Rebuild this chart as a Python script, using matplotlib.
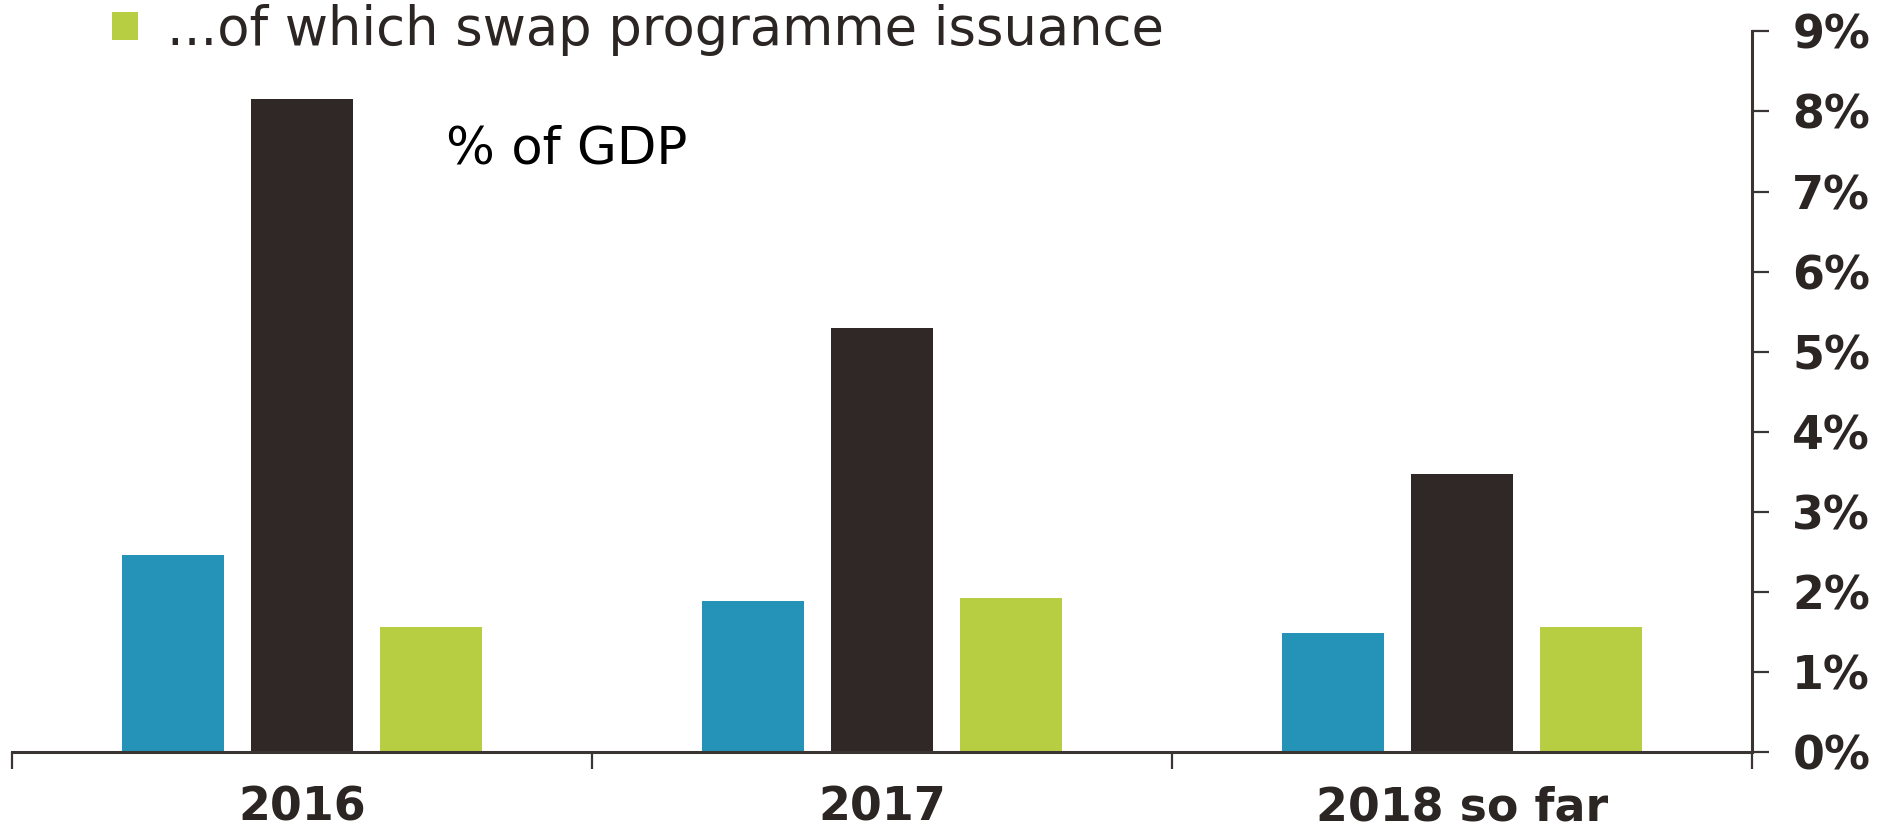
import matplotlib
matplotlib.use("Agg")
import matplotlib.pyplot as plt
import numpy as np

categories = ["2016", "2017", "2018 so far"]
series_blue = [2.46, 1.89, 1.49]
series_black = [8.15, 5.30, 3.47]
series_green = [1.56, 1.92, 1.56]
green_label = "...of which swap programme issuance"
yticks = list(range(0, 10))
ytick_labels = [f"{v}%" for v in yticks]

BLUE = "#2493B7"
BLACK = "#302826"
GREEN = "#B8CE42"
DARK = "#2B2523"

W, H = 1902, 827
fig = plt.figure(figsize=(W / 100, H / 100), dpi=100)
ax = fig.add_axes([12 / W, (H - 752) / H, (1752 - 12) / W, (752 - 31.4) / H])

x = np.arange(len(categories))
bw = 0.176
off = 0.222
ax.bar(x - off, series_blue, width=bw, color=BLUE, zorder=2)
ax.bar(x, series_black, width=bw, color=BLACK, zorder=2)
gb = ax.bar(x + off, series_green, width=bw, color=GREEN, zorder=2, label=green_label)

ax.set_xlim(-0.5, 2.5)
ax.set_ylim(0, 9)

for s in ["top", "left"]:
    ax.spines[s].set_visible(False)
for s in ["bottom", "right"]:
    ax.spines[s].set_color("#3a3533")
    ax.spines[s].set_linewidth(2.2)
    ax.spines[s].set_zorder(3)

ax.yaxis.tick_right()
ax.set_yticks(yticks)
ax.set_yticklabels(ytick_labels)
ax.tick_params(axis="y", direction="out", length=12, width=1.6, color="#3a3533",
               pad=17, labelsize=33, labelcolor=DARK)
for t in ax.get_yticklabels():
    t.set_fontweight("bold")

ax.set_xticks([-0.5, 0.5, 1.5, 2.5])
ax.set_xticklabels([])
ax.tick_params(axis="x", which="major", direction="out", length=12, width=1.6, color="#3a3533")
ax.set_xticks(x, minor=True)
ax.set_xticklabels(categories, minor=True)
ax.tick_params(axis="x", which="minor", length=0, pad=24, labelsize=33, labelcolor=DARK)
for t in ax.get_xticklabels(minor=True):
    t.set_fontweight("bold")

ax.text((446 - 12) / 1740, (752 - 163) / (752 - 31.4), "% of GDP", transform=ax.transAxes,
        fontsize=37, color="black", va="baseline", ha="left")

leg = fig.legend(handles=[gb], labels=[green_label], loc="upper left",
                 bbox_to_anchor=(112 / W, 1 - 4 / H), frameon=False, fontsize=38,
                 handlelength=0.5, handleheight=0.45, handletextpad=0.55,
                 borderpad=0, borderaxespad=0)
for t in leg.get_texts():
    t.set_color(DARK)

fig.savefig("out.png", dpi=100)
